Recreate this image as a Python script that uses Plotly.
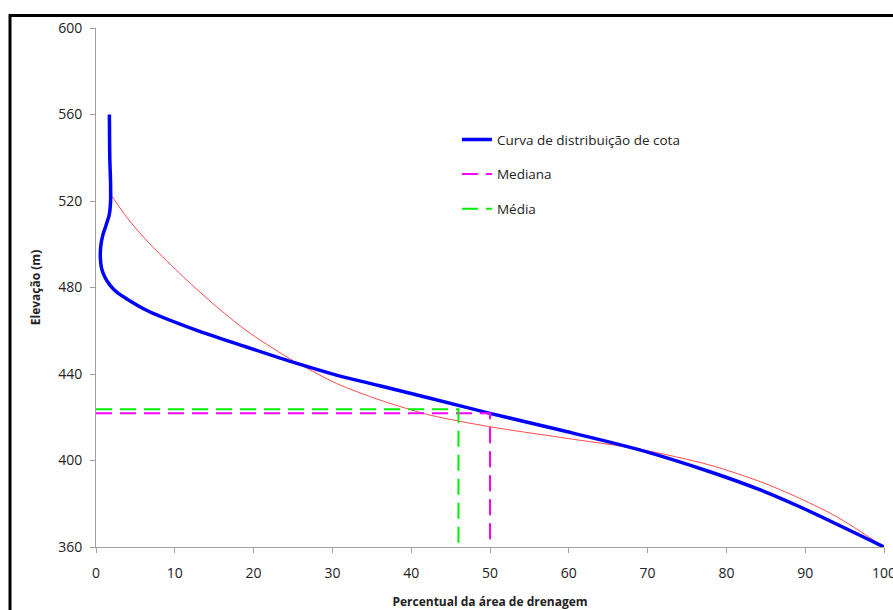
import plotly.graph_objects as go

# Curva de distribuição de cota (blue)
curve_x = [1.7, 1.75, 1.85, 1.85, 1.7, 1.3, 0.85, 0.6, 0.55, 0.7, 1.1, 1.8, 2.6, 6.35, 12.7,
           19.0, 25.4, 30.5, 36.0, 42.4, 50.0, 58.9, 69.0, 77.9, 84.3, 89.3, 100.0]
curve_y = [560, 540, 528, 520, 514, 509, 504, 499, 494, 489, 485, 481, 478, 469.6, 460.3,
           452.6, 445.0, 439.5, 434.6, 428.8, 421.8, 414.1, 404.9, 394.8, 386.4, 378.6, 360.0]

# Thin red reference curve
ref_x = [1.9, 4.0, 6.35, 10.6, 14.8, 19.0, 24.5, 30.5, 36.0, 42.4, 50.0, 58.9, 69.0, 77.9, 84.3,
         89.3, 94.0, 100.0]
ref_y = [522.8, 512.0, 502.0, 486.6, 472.7, 460.3, 447.3, 435.7, 428.0, 421.0, 415.6, 410.7, 405.2,
         397.9, 390.2, 382.5, 374.0, 360.0]

# Mediana and Média guide lines
median_x = [0, 50, 50]
median_y = [421.8, 421.8, 360]
mean_x = [0, 46, 46]
mean_y = [423.7, 423.7, 360]

x_ticks = [0, 10, 20, 30, 40, 50, 60, 70, 80, 90, 100]
y_ticks = [360, 400, 440, 480, 520, 560, 600]

fig = go.Figure()
fig.add_trace(go.Scatter(x=ref_x, y=ref_y, mode="lines",
                         line=dict(color="#FF4A4A", width=1, shape="spline", smoothing=0.8),
                         showlegend=False, hoverinfo="skip"))
fig.add_trace(go.Scatter(x=curve_x, y=curve_y, mode="lines", name="Curva de distribuição de cota",
                         line=dict(color="#0000FF", width=3.5, shape="spline", smoothing=0.8),
                         legendgroup="a"))
fig.add_trace(go.Scatter(x=median_x, y=median_y, mode="lines", name="Mediana",
                         line=dict(color="#FF00FF", width=2, dash="16px,8px"), legendgroup="b"))
fig.add_trace(go.Scatter(x=mean_x, y=mean_y, mode="lines", name="Média",
                         line=dict(color="#00EE00", width=2, dash="16px,8px"), legendgroup="c"))

fig.update_layout(
    width=893, height=610,
    margin=dict(l=96, r=9, t=28, b=63, autoexpand=False),
    paper_bgcolor="white", plot_bgcolor="white",
    font=dict(family="Open Sans, Noto Sans, sans-serif", size=13, color="#222"),
    legend=dict(x=0.458, y=0.8145, xanchor="left", yanchor="top", bgcolor="rgba(0,0,0,0)",
                tracegroupgap=14, font=dict(size=13.5)),
    showlegend=True,
)
fig.update_xaxes(range=[0, 100], tickvals=x_ticks, showgrid=False, zeroline=False,
                 showline=True, linecolor="#A0A0A0", linewidth=1,
                 ticks="outside", ticklen=5, tickcolor="#A0A0A0",
                 ticklabelstandoff=8, automargin=False, ticklabeloverflow="allow",
                 tickfont=dict(size=14),
                 title=dict(text="<b>Percentual da área de drenagem</b>", font=dict(size=12), standoff=17))
fig.update_yaxes(range=[360, 600], tickvals=y_ticks, showgrid=False, zeroline=False,
                 showline=True, linecolor="#A0A0A0", linewidth=1,
                 ticks="outside", ticklen=5, tickcolor="#A0A0A0",
                 ticklabelstandoff=5, automargin=False, ticklabeloverflow="allow",
                 tickfont=dict(size=14),
                 title=dict(text="<b>Elevação (m)</b>", font=dict(size=12), standoff=14))

# Outer black frame
fig.add_shape(type="rect", xref="paper", yref="paper",
              x0=(10 - 96) / 788, x1=1.05, y0=-0.2, y1=1 + (28 - 15.5) / 519,
              line=dict(color="black", width=3), fillcolor="rgba(0,0,0,0)", layer="below")

fig.write_html("out.html", config={"displayModeBar": False},
               post_script="document.body.style.margin='0px';document.body.style.overflow='hidden';")
